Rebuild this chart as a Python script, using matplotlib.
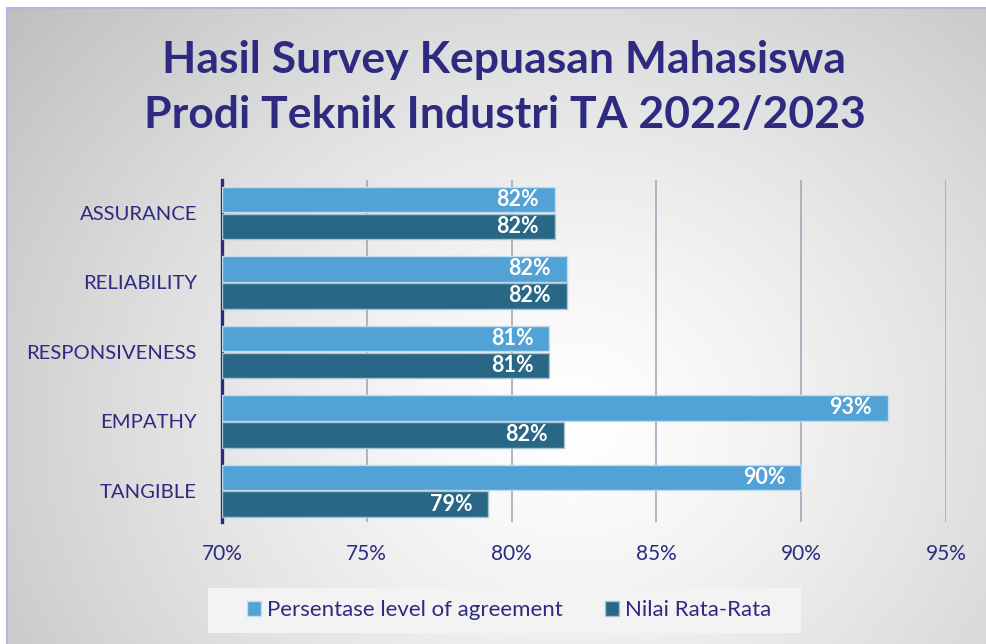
import matplotlib.pyplot as plt
import numpy as np
from matplotlib.patches import Patch, Rectangle
from matplotlib.lines import Line2D

categories = ['ASSURANCE', 'RELIABILITY', 'RESPONSIVENESS', 'EMPATHY', 'TANGIBLE']
agreement = [81.5, 81.9, 81.3, 93.0, 90.0]
average = [81.5, 81.9, 81.3, 81.8, 79.2]
series_names = ['Persentase level of agreement', 'Nilai Rata-Rata']
title_lines = ['Hasil Survey Kepuasan Mahasiswa', 'Prodi Teknik Industri TA 2022/2023']
xticks = [70, 75, 80, 85, 90, 95]

navy = '#2E2A80'
light = '#52A2D5'
dark = '#286785'

plt.rcParams['font.family'] = ['Lato', 'DejaVu Sans']

W, H = 986, 644
fig = plt.figure(figsize=(W / 100, H / 100), dpi=100)

# radial grey background like the office chart style
bg = fig.add_axes([0, 0, 1, 1], zorder=-10)
yy, xx = np.mgrid[0:H, 0:W]
r = np.hypot((xx - 570) / 700, (yy - 420) / 620)
val = np.clip(1 - 0.24 * r ** 1.3, 0, 1)
img = np.dstack([val, val, val])
img[:8, :, :] = 1
img[:, :7, :] = 1
bg.imshow(img, extent=[0, W, H, 0], aspect='auto')
bg.set_xlim(0, W)
bg.set_ylim(H, 0)
bg.axis('off')
bg.add_line(Line2D([7, 7], [8, H], color='#B9B3EC', lw=1.5))
bg.add_line(Line2D([7, W], [8, 8], color='#B9B3EC', lw=1.5))
# legend box
bg.add_patch(Rectangle((208, 588), 593, 45, facecolor='#F3F3F3',
                       edgecolor='none'))

ax = fig.add_axes([222 / W, 1 - 522 / H, (946 - 222) / W, (522 - 180) / H])
ax.set_facecolor('none')

y = np.arange(len(categories))
h = 0.367
off = 0.194
b1 = ax.barh(y - off, np.array(agreement) - 70, left=70, height=h,
             color=light, edgecolor='#BFDCF0', linewidth=1, zorder=3)
b2 = ax.barh(y + off, np.array(average) - 70, left=70, height=h,
             color=dark, edgecolor='#A9C3D1', linewidth=1, zorder=3)

for bars, vals in ((b1, agreement), (b2, average)):
    for bar, v in zip(bars, vals):
        ax.text(v - 0.55, bar.get_y() + bar.get_height() / 2, f'{v:.0f}%',
                ha='right', va='center', color='white', fontsize=15.5,
                fontweight='bold', zorder=4)

ax.set_xlim(70, 95)
ax.set_ylim(4.45, -0.475)
ax.set_xticks(xticks)
ax.set_xticklabels([f'{t}%' for t in xticks])
ax.set_yticks(y)
ax.set_yticklabels(categories)
ax.tick_params(axis='both', length=0, labelcolor=navy, labelsize=15)
ax.tick_params(axis='y', labelsize=14.6, pad=18)
ax.tick_params(axis='x', pad=16)
for t in xticks[1:]:
    ax.axvline(t, color='#A8A5B8', lw=1.2, zorder=1)
for s in ('top', 'right', 'bottom'):
    ax.spines[s].set_visible(False)
ax.spines['left'].set_color(navy)
ax.spines['left'].set_linewidth(2.4)

fig.text(504 / W, 1 - 73 / H, title_lines[0], ha='center', va='baseline',
         fontsize=32, fontweight='bold', color=navy)
fig.text(505 / W, 1 - 128 / H, title_lines[1], ha='center', va='baseline',
         fontsize=32, fontweight='bold', color=navy)

handles = [Patch(facecolor=light, edgecolor='#BFDCF0'),
           Patch(facecolor=dark, edgecolor='#A9C3D1')]
leg = fig.legend(handles, series_names, loc='center',
                 bbox_to_anchor=(509 / W, 1 - 610.5 / H), ncol=2,
                 fontsize=16, labelcolor=navy, frameon=False,
                 handlelength=0.64, handleheight=0.64, handletextpad=0.25,
                 columnspacing=1.9, borderpad=0.3)

fig.savefig('out.png', dpi=100)
